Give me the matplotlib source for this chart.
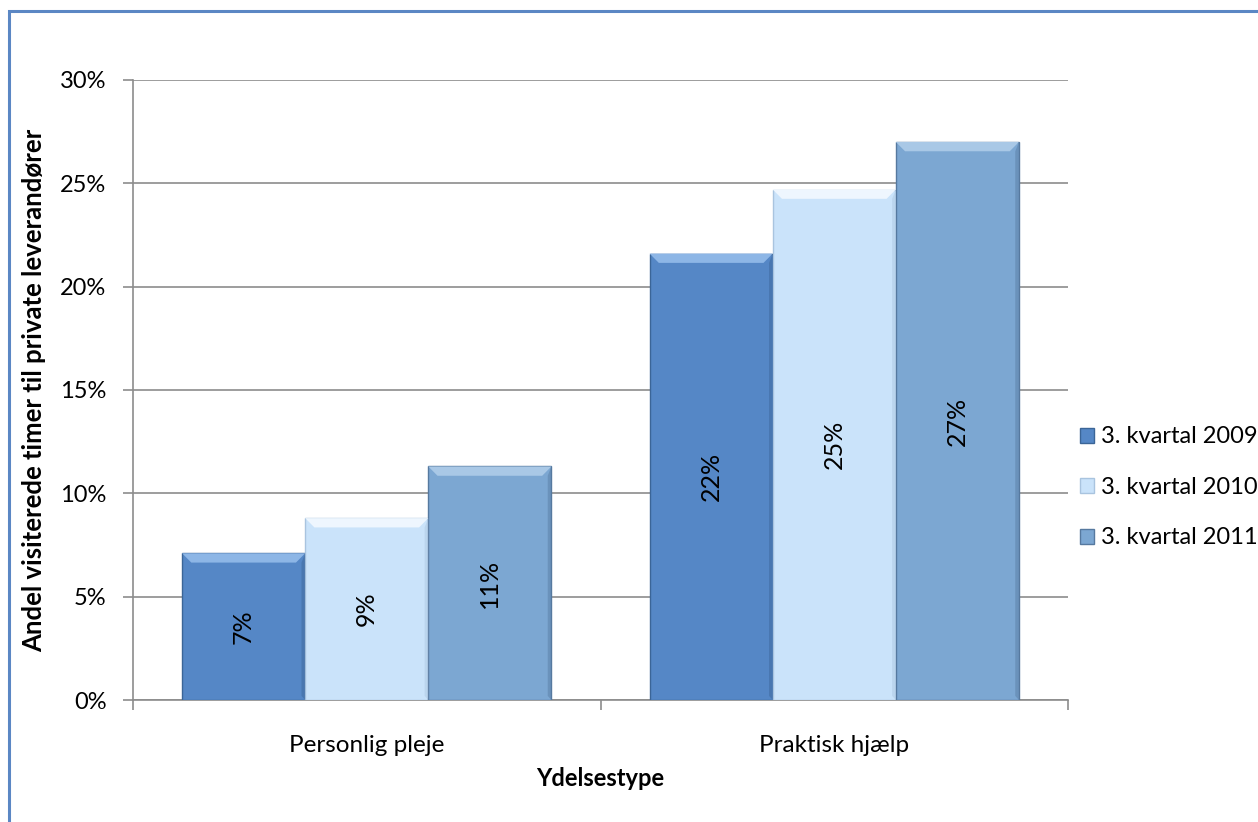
import matplotlib
matplotlib.use("Agg")
import matplotlib.pyplot as plt
from matplotlib.patches import Polygon, Rectangle
from matplotlib.ticker import FuncFormatter, MultipleLocator
import numpy as np

# Data
categories = ["Personlig pleje", "Praktisk hjælp"]
series_names = ["3. kvartal 2009", "3. kvartal 2010", "3. kvartal 2011"]
values_2009 = [7.1, 21.6]
values_2010 = [8.8, 24.7]
values_2011 = [11.3, 27.0]
value_labels_2009 = ["7%", "22%"]
value_labels_2010 = ["9%", "25%"]
value_labels_2011 = ["11%", "27%"]

series_values = [values_2009, values_2010, values_2011]
series_labels = [value_labels_2009, value_labels_2010, value_labels_2011]
face_colors = ["#5587C6", "#CAE3FA", "#7CA7D2"]
top_colors = ["#8DB6E6", "#EEF6FE", "#A9C8E6"]
edge_colors = ["#3B6597", "#A9C4DF", "#56799F"]

plt.rcParams["font.family"] = ["Lato", "DejaVu Sans"]

fig = plt.figure(figsize=(12.58, 8.22), dpi=100)
ax = fig.add_axes([0.1057, 0.1484, 0.849 - 0.1057, 0.9027 - 0.1484])

# Chart-area frame
fig.patches.append(Rectangle((9 / 1258, -0.05), 1.2, 1 - 11 / 822 + 0.05,
                             transform=fig.transFigure, fill=False,
                             edgecolor="#5B87C4", linewidth=2.2, zorder=0))

x = np.arange(len(categories))
group_width = 0.79
bar_w = group_width / 3

ax.set_xlim(-0.5, len(categories) - 0.5)
ax.set_ylim(0, 30)

for i, (vals, labs) in enumerate(zip(series_values, series_labels)):
    pos = x - group_width / 2 + bar_w * (i + 0.5)
    bars = ax.bar(pos, vals, width=bar_w, color=face_colors[i],
                  edgecolor=edge_colors[i], linewidth=1.0, zorder=3,
                  label=series_names[i])
    for b, lab in zip(bars, labs):
        bx, bw, bh = b.get_x(), b.get_width(), b.get_height()
        dx = bw * 0.075
        dy = 0.45
        # bevelled top edge
        ax.add_patch(Polygon([(bx, bh), (bx + bw, bh), (bx + bw - dx, bh - dy),
                              (bx + dx, bh - dy)], closed=True,
                             facecolor=top_colors[i], edgecolor="none", zorder=4))
        # darker right side
        ax.add_patch(Polygon([(bx + bw, bh), (bx + bw, 0), (bx + bw - dx * 0.4, 0.2),
                              (bx + bw - dx * 0.4, bh - dy)], closed=True,
                             facecolor=edge_colors[i], alpha=0.45,
                             edgecolor="none", zorder=4))
        ax.text(bx + bw / 2, bh / 2, lab, rotation=90, ha="center",
                va="center", fontsize=18, color="black", zorder=5)

ax.yaxis.set_major_locator(MultipleLocator(5))
ax.yaxis.set_major_formatter(FuncFormatter(lambda v, p: f"{v:.0f}%"))
ax.grid(axis="y", color="#8C8C8C", linewidth=1.2, zorder=0)
ax.set_axisbelow(True)

for side in ["top", "right"]:
    ax.spines[side].set_visible(False)
for side in ["left", "bottom"]:
    ax.spines[side].set_color("#8C8C8C")
    ax.spines[side].set_linewidth(1.2)

ax.set_xticks([-0.5, 0.5, 1.5], minor=False)
ax.set_xticklabels(["", "", ""])
ax.set_xticks(x, minor=True)
ax.set_xticklabels(categories, minor=True, fontsize=17.5)
ax.tick_params(axis="x", which="major", length=7, color="#8C8C8C", width=1.2)
ax.tick_params(axis="x", which="minor", length=0, pad=25)
ax.tick_params(axis="y", length=7, color="#8C8C8C", width=1.2, labelsize=17, pad=12)

ax.set_xlabel("Ydelsestype", fontsize=17, fontweight="bold", labelpad=8)
ax.set_ylabel("Andel visiterede timer til private leverandører", fontsize=18.5,
              fontweight="bold", labelpad=10)

leg = ax.legend(loc="center left", bbox_to_anchor=(0.995, 0.343), frameon=False,
                fontsize=17, handlelength=0.6, handleheight=0.6,
                handletextpad=0.3, labelspacing=1.25, borderaxespad=0.3)

fig.savefig("out.png", dpi=100, facecolor="white")
